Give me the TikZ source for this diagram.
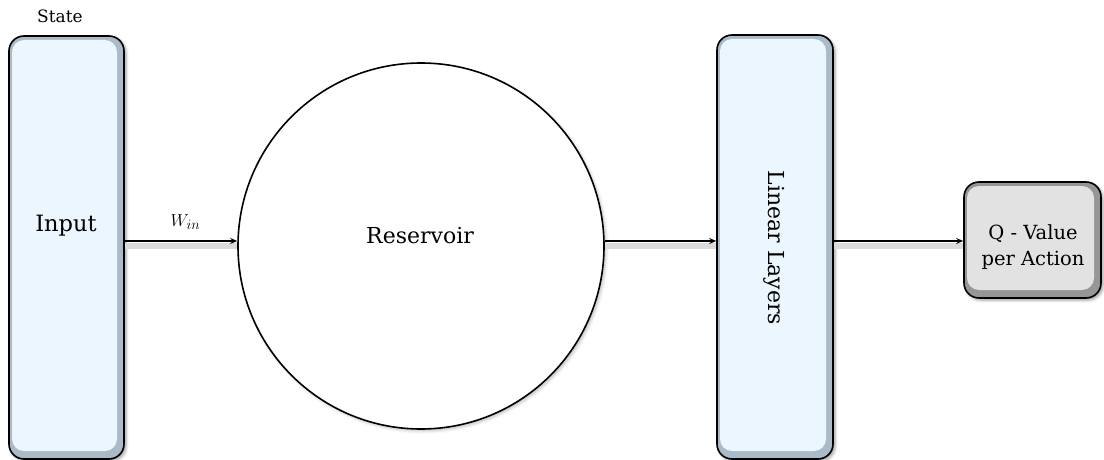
\documentclass[tikz,border=0pt]{standalone}
\usepackage{fontspec}
\setmainfont{DejaVu Serif}
\usetikzlibrary{arrows.meta,shadows.blur}
\definecolor{boxblue}{RGB}{235,246,254}
\definecolor{bevelblue}{RGB}{170,186,200}
\definecolor{boxgray}{RGB}{226,226,226}
\definecolor{bevelgray}{RGB}{150,150,150}
\tikzset{
  bluebox/.style={draw=black, line width=1.6pt, rounded corners=15pt, fill=bevelblue, inner sep=0pt,
    blur shadow={shadow xshift=2pt, shadow yshift=-2pt, shadow blur radius=3pt, shadow opacity=40},
    path picture={\fill[boxblue, rounded corners=12pt]
      ([xshift=3pt,yshift=-4pt]path picture bounding box.north west) rectangle
      ([xshift=-7pt,yshift=8pt]path picture bounding box.south east);}},
  graybox/.style={draw=black, line width=1.6pt, rounded corners=15pt, fill=bevelgray, inner sep=0pt,
    blur shadow={shadow xshift=2pt, shadow yshift=-2pt, shadow blur radius=3pt, shadow opacity=40},
    path picture={\fill[boxgray, rounded corners=12pt]
      ([xshift=3pt,yshift=-4pt]path picture bounding box.north west) rectangle
      ([xshift=-7pt,yshift=8pt]path picture bounding box.south east);}},
  resstyle/.style={draw=black, line width=1.6pt, circle, fill=white, inner sep=0pt,
    blur shadow={shadow xshift=2pt, shadow yshift=-2pt, shadow blur radius=3pt, shadow opacity=25}},
  conn/.style={line width=1.4pt, -{Stealth[length=7pt,width=6pt]},
    preaction={draw=black!14, line width=6pt, -, transform canvas={yshift=-5pt}}},
  lbl/.style={inner sep=0pt, text=black}
}
\begin{document}
\begin{tikzpicture}[x=1pt,y=-1pt]
\useasboundingbox (0,0) rectangle (1104,460);
% boxes
\node[bluebox, minimum width=115pt, minimum height=423pt] (inp) at (66.5,247.5) {};
\node[bluebox, minimum width=116pt, minimum height=424pt] (lin) at (775,247) {};
\node[resstyle, minimum size=366pt] (res) at (421,246) {};
\node[graybox, minimum width=137pt, minimum height=116pt] (q) at (1032.5,240) {};
% labels
\node[lbl, font=\fontsize{17}{20}\selectfont] (state) at (60,16) {State};
\node[lbl, font=\fontsize{22.5}{26}\selectfont] (inptxt) at (66,226) {Input};
\node[lbl, font=\fontsize{22}{26}\selectfont] (restxt) at (420,236) {Reservoir};
\node[lbl, font=\fontsize{22}{26}\selectfont, rotate=-90] (lintxt) at (774,248) {Linear Layers};
\node[lbl, align=center, font=\fontsize{19.5}{26}\selectfont] (qtxt) at (1033,247) {Q - Value\\per Action};
% connectors
\coordinate (ay) at (0,241);
\draw[conn] (inp.east |- ay) -- (res.west |- ay) node[pos=0.54, above=7pt, font=\fontsize{19}{22}\selectfont] (win) {$W_{in}$};
\draw[conn] (res.east |- ay) -- (lin.west |- ay);
\draw[conn] (lin.east |- ay) -- (q.west |- ay);
\end{tikzpicture}
\end{document}
